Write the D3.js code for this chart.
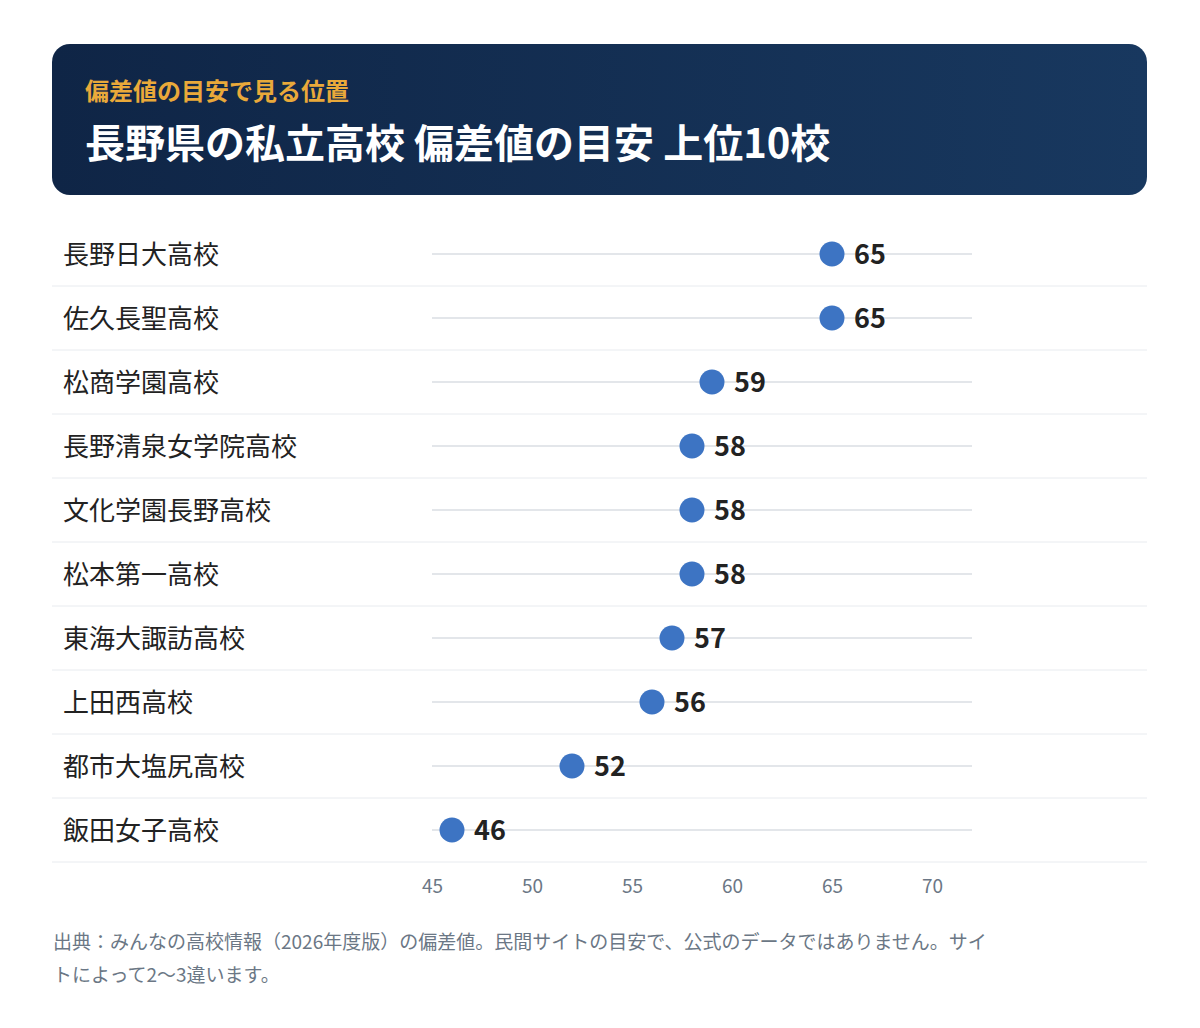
<!DOCTYPE html>
<html><head><meta charset="utf-8">
<script src="https://cdn.jsdelivr.net/npm/d3@7"></script>
<style>body{margin:0;background:#fff}svg{display:block}</style>
</head><body>
<svg id="chart" width="1200" height="1028"></svg>
<script>
var schools = ["長野日大高校","佐久長聖高校","松商学園高校","長野清泉女学院高校","文化学園長野高校","松本第一高校","東海大諏訪高校","上田西高校","都市大塩尻高校","飯田女子高校"];
var scores = [65,65,59,58,58,58,57,56,52,46];
var ticks = [45,50,55,60,65,70];

var font = "'Noto Sans CJK JP','Noto Sans',sans-serif";
var svg = d3.select("#chart");

// header
var grad = svg.append("defs").append("linearGradient").attr("id","hg");
grad.append("stop").attr("offset","0%").attr("stop-color","#0f2546");
grad.append("stop").attr("offset","100%").attr("stop-color","#18385f");
svg.append("rect").attr("x",52).attr("y",44).attr("width",1095).attr("height",151)
  .attr("rx",18).attr("fill","url(#hg)");
svg.append("text").attr("x",85).attr("y",100).attr("font-family",font).attr("font-size",24)
  .attr("font-weight",700).attr("fill","#e9a93a").text("偏差値の目安で見る位置");
svg.append("text").attr("x",85).attr("y",158).attr("font-family",font).attr("font-size",40)
  .attr("font-weight",700).attr("fill","#fff").text("長野県の私立高校 偏差値の目安 上位10校");

var x = d3.scaleLinear().domain([45,70]).range([432,932]);
var y = d3.scaleBand().domain(schools).range([222,862]);

var row = svg.append("g").selectAll("g").data(schools).join("g")
  .attr("transform", function(d){ return "translate(0," + (y(d) + y.bandwidth()/2) + ")"; });

row.append("line").attr("x1",52).attr("x2",1147).attr("y1",y.bandwidth()/2).attr("y2",y.bandwidth()/2)
  .attr("stroke","#e8ebef").attr("stroke-width",1);
row.append("line").attr("x1",x(45)).attr("x2",x(72)).attr("y1",0).attr("y2",0)
  .attr("stroke","#e3e6ea").attr("stroke-width",2);
row.append("text").attr("x",63).attr("y",10).attr("font-family",font).attr("font-size",26)
  .attr("fill","#222").text(function(d){ return d; });
row.append("circle").attr("cx",function(d,i){ return x(scores[i]); }).attr("r",12.5)
  .attr("fill","#3d74c3");
row.append("text").attr("x",function(d,i){ return x(scores[i]) + 22; }).attr("y",10)
  .attr("font-family",font).attr("font-size",27).attr("font-weight",700).attr("fill","#222")
  .text(function(d,i){ return scores[i]; });

// axis
var ax = svg.append("g").attr("transform","translate(0,862)")
  .call(d3.axisBottom(x).tickValues(ticks).tickSize(0).tickPadding(18));
ax.select(".domain").remove();
ax.selectAll("text").attr("font-family",font).attr("font-size",19).attr("fill","#6b7785");

svg.append("text").attr("x",53).attr("y",949).attr("font-family",font).attr("font-size",19)
  .attr("fill","#6b7785").text("出典：みんなの高校情報（2026年度版）の偏差値。民間サイトの目安で、公式のデータではありません。サイ");
svg.append("text").attr("x",53).attr("y",982).attr("font-family",font).attr("font-size",19)
  .attr("fill","#6b7785").text("トによって2〜3違います。");
</script>
</body></html>
